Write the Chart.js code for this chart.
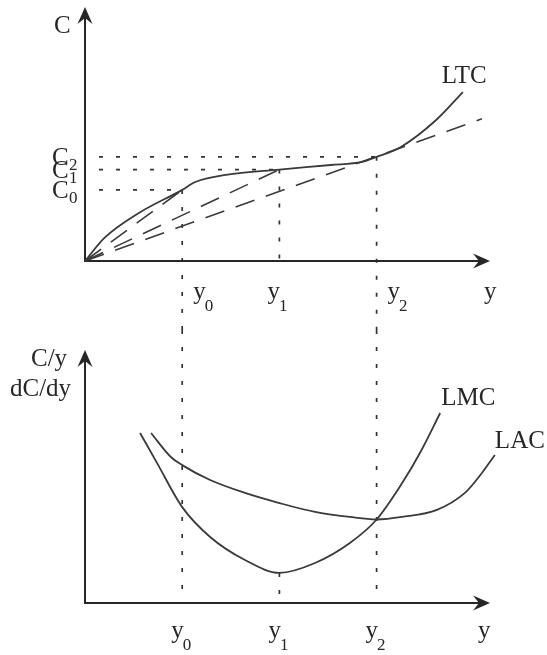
<!DOCTYPE html>
<html lang="en">
<head>
<meta charset="UTF-8">
<title>Long run cost curves</title>
<script src="https://cdn.jsdelivr.net/npm/chart.js"></script>
<style>
  body { margin: 0; background: #ffffff; }
  .wrap { position: relative; width: 547px; height: 655px; }
  canvas { position: absolute; left: 0; }
  #topChart { top: 0; }
  #bottomChart { top: 330px; }
</style>
</head>
<body>
<div class="wrap">
  <canvas id="topChart" width="547" height="330"></canvas>
  <canvas id="bottomChart" width="547" height="325"></canvas>
</div>
<script>
// output levels y0, y1, y2 and the matching cost levels C0, C1, C2
const outputLevels = [2.4, 4.8, 7.2];
const levelSubs = ['0', '1', '2'];
const costLevels = [2.8, 3.6, 4.1];

// long run total cost curve
const ltcX = [0, 0.48, 1.33, 2.4, 2.72, 3.48, 4.8, 6.07, 6.84, 7.2, 7.8, 8.67, 9.33];
const ltcY = [0, 0.91, 1.89, 2.8, 3.11, 3.39, 3.6, 3.78, 3.9, 4.1, 4.49, 5.55, 6.65];

// dashed rays from the origin, end points
const rayX = [2.4, 4.8, 9.8];
const rayY = [2.8, 3.6, 5.6];

// long run marginal cost
const lmcX = [1.36, 1.78, 2.4, 3.09, 3.95, 4.8, 5.68, 6.54, 7.2, 7.83, 8.27, 8.77];
const lmcY = [6.72, 5.53, 3.79, 2.61, 1.7, 1.19, 1.58, 2.37, 3.3, 4.74, 5.93, 7.51];

// long run average cost
const lacX = [1.63, 2.12, 2.4, 3.09, 3.95, 4.8, 5.68, 6.54, 7.2, 7.83, 8.69, 9.38, 9.8, 10.12];
const lacY = [6.72, 5.77, 5.45, 4.86, 4.35, 3.95, 3.6, 3.4, 3.3, 3.4, 3.68, 4.35, 5.14, 5.85];

const serif = '"Liberation Serif", "DejaVu Serif", serif';
const ink = '#262626';
const lineInk = '#3a3a3a';
const dotted = [4, 13];

function toPoints(xs, ys) {
  return xs.map((x, i) => ({ x: x, y: ys[i] }));
}

function arrowHead(ctx, x, y, dx, dy) {
  // filled arrow with a notched back, pointing along (dx, dy)
  const len = 17, half = 7.5, notch = 11;
  const px = -dy, py = dx;
  ctx.beginPath();
  ctx.moveTo(x, y);
  ctx.lineTo(x - dx * len + px * half, y - dy * len + py * half);
  ctx.lineTo(x - dx * notch, y - dy * notch);
  ctx.lineTo(x - dx * len - px * half, y - dy * len - py * half);
  ctx.closePath();
  ctx.fill();
}

function drawAxes(ctx, chart) {
  const xs = chart.scales.x, ys = chart.scales.y;
  const x0 = xs.getPixelForValue(0), y0 = ys.getPixelForValue(0);
  const xTip = xs.getPixelForValue(10), yTip = ys.getPixelForValue(10);
  ctx.save();
  ctx.strokeStyle = ink;
  ctx.fillStyle = ink;
  ctx.lineWidth = 2;
  ctx.beginPath();
  ctx.moveTo(x0, yTip + 8);
  ctx.lineTo(x0, y0);
  ctx.lineTo(xTip - 8, y0);
  ctx.stroke();
  arrowHead(ctx, xTip, y0, 1, 0);
  arrowHead(ctx, x0, yTip, 0, -1);
  ctx.restore();
}

function subLabel(ctx, main, sub, x, y) {
  ctx.textAlign = 'left';
  ctx.textBaseline = 'alphabetic';
  ctx.font = '25px ' + serif;
  ctx.fillText(main, x, y);
  const w = ctx.measureText(main).width;
  ctx.font = '17px ' + serif;
  ctx.fillText(sub, x + w - 1, y + 12);
}

function text(ctx, str, x, y) {
  ctx.textAlign = 'left';
  ctx.textBaseline = 'alphabetic';
  ctx.font = '25px ' + serif;
  ctx.fillText(str, x, y);
}

const topDecor = {
  id: 'topDecor',
  beforeDatasetsDraw(chart) {
    const ctx = chart.ctx;
    const xs = chart.scales.x, ys = chart.scales.y;
    const x0 = xs.getPixelForValue(0), yAxis = ys.getPixelForValue(0);
    ctx.save();
    ctx.strokeStyle = '#333333';
    ctx.lineWidth = 1.7;
    ctx.setLineDash(dotted);
    outputLevels.forEach((q, i) => {
      const px = xs.getPixelForValue(q);
      const py = ys.getPixelForValue(costLevels[i]);
      ctx.beginPath();
      ctx.moveTo(x0 + 14, py);
      ctx.lineTo(px, py);
      ctx.stroke();
      ctx.beginPath();
      ctx.moveTo(px, py);
      ctx.lineTo(px, i === 1 ? yAxis : chart.height);
      ctx.stroke();
    });
    ctx.restore();
    drawAxes(ctx, chart);
  },
  afterDraw(chart) {
    const ctx = chart.ctx;
    const xs = chart.scales.x, ys = chart.scales.y;
    const x0 = xs.getPixelForValue(0), yAxis = ys.getPixelForValue(0);
    ctx.save();
    ctx.fillStyle = ink;
    text(ctx, 'C', x0 - 31, ys.getPixelForValue(10) + 26);
    costLevels.forEach((c, i) => {
      ctx.font = '25px ' + serif;
      ctx.textAlign = 'left';
      ctx.fillText('C', x0 - 33, ys.getPixelForValue(c) + 8);
      ctx.font = '17px ' + serif;
      ctx.fillText(levelSubs[i], x0 - 16, ys.getPixelForValue(c) + 13);
    });
    outputLevels.forEach((q, i) => {
      const px = xs.getPixelForValue(q);
      subLabel(ctx, 'y', levelSubs[i], i === 1 ? px - 12 : px + 11, yAxis + 38);
    });
    text(ctx, 'y', xs.getPixelForValue(10) - 6, yAxis + 38);
    const last = ltcX.length - 1;
    text(ctx, 'LTC', xs.getPixelForValue(ltcX[last]) - 21, ys.getPixelForValue(ltcY[last]) - 9);
    ctx.restore();
  }
};

const bottomDecor = {
  id: 'bottomDecor',
  beforeDatasetsDraw(chart) {
    const ctx = chart.ctx;
    const xs = chart.scales.x, ys = chart.scales.y;
    const yAxis = ys.getPixelForValue(0);
    const lmcAtY1 = lmcY[lmcX.indexOf(outputLevels[1])];
    ctx.save();
    ctx.strokeStyle = '#333333';
    ctx.lineWidth = 1.7;
    ctx.setLineDash(dotted);
    outputLevels.forEach((q, i) => {
      const px = xs.getPixelForValue(q);
      ctx.beginPath();
      ctx.moveTo(px, i === 1 ? ys.getPixelForValue(lmcAtY1) : 0);
      ctx.lineTo(px, yAxis);
      ctx.stroke();
    });
    ctx.restore();
    drawAxes(ctx, chart);
  },
  afterDraw(chart) {
    const ctx = chart.ctx;
    const xs = chart.scales.x, ys = chart.scales.y;
    const yAxis = ys.getPixelForValue(0);
    ctx.save();
    ctx.fillStyle = ink;
    text(ctx, 'C/y', 31, ys.getPixelForValue(10) + 16);
    text(ctx, 'dC/dy', 10, ys.getPixelForValue(10) + 46);
    outputLevels.forEach((q, i) => {
      subLabel(ctx, 'y', levelSubs[i], xs.getPixelForValue(q) - 11, yAxis + 35);
    });
    text(ctx, 'y', xs.getPixelForValue(10) - 12, yAxis + 35);
    let n = lmcX.length - 1;
    text(ctx, 'LMC', xs.getPixelForValue(lmcX[n]) + 1, ys.getPixelForValue(lmcY[n]) - 8);
    n = lacX.length - 1;
    text(ctx, 'LAC', xs.getPixelForValue(lacX[n]), ys.getPixelForValue(lacY[n]) - 7);
    ctx.restore();
  }
};

function baseOptions(padding) {
  return {
    responsive: false,
    animation: false,
    layout: { padding: padding },
    plugins: { legend: { display: false }, tooltip: { enabled: false } },
    scales: {
      x: { type: 'linear', min: 0, max: 11, display: false },
      y: { type: 'linear', min: 0, max: 10, display: false }
    },
    elements: { point: { radius: 0 } }
  };
}

function curve(xs, ys) {
  return {
    data: toPoints(xs, ys),
    showLine: true,
    borderColor: lineInk,
    borderWidth: 1.8,
    pointRadius: 0,
    cubicInterpolationMode: 'monotone',
    clip: false
  };
}

const rays = rayX.map((x, i) => ({
  data: [{ x: 0, y: 0 }, { x: x, y: rayY[i] }],
  showLine: true,
  borderColor: lineInk,
  borderWidth: 1.6,
  borderDash: [20, 12],
  pointRadius: 0,
  clip: false
}));

new Chart(document.getElementById('topChart'), {
  type: 'scatter',
  data: { datasets: [curve(ltcX, ltcY)].concat(rays) },
  options: baseOptions({ left: 85, right: 16.5, top: 7, bottom: 69 }),
  plugins: [topDecor]
});

new Chart(document.getElementById('bottomChart'), {
  type: 'scatter',
  data: { datasets: [curve(lmcX, lmcY), curve(lacX, lacY)] },
  options: baseOptions({ left: 85, right: 16.5, top: 20, bottom: 52 }),
  plugins: [bottomDecor]
});
</script>
</body>
</html>
